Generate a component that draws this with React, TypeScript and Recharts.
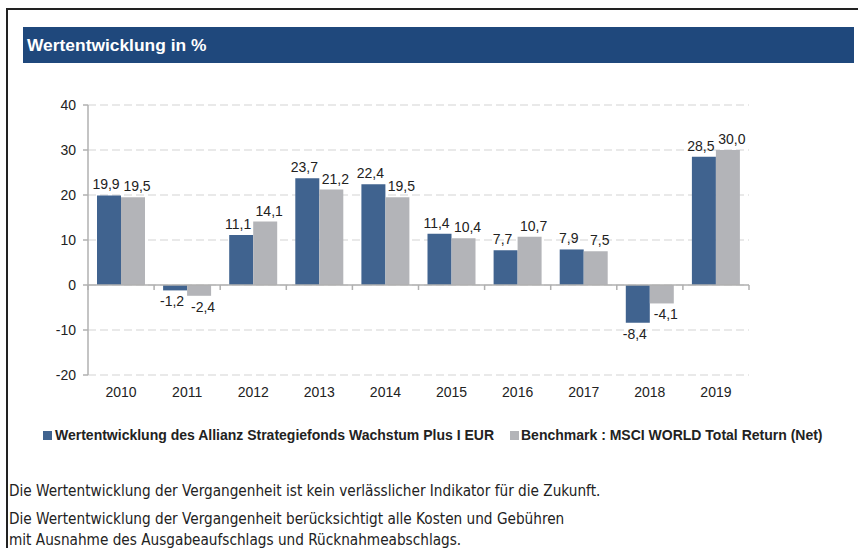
import { Bar, BarChart, CartesianGrid, LabelList, ReferenceLine, XAxis, YAxis } from "recharts";

const years = ["2010", "2011", "2012", "2013", "2014", "2015", "2016", "2017", "2018", "2019"];
const fundValues = [19.9, -1.2, 11.1, 23.7, 22.4, 11.4, 7.7, 7.9, -8.4, 28.5];
const benchmarkValues = [19.5, -2.4, 14.1, 21.2, 19.5, 10.4, 10.7, 7.5, -4.1, 30.0];
const yTicks = [-20, -10, 0, 10, 20, 30, 40];

const fundName = "Wertentwicklung des Allianz Strategiefonds Wachstum Plus I EUR";
const benchmarkName = "Benchmark : MSCI WORLD Total Return (Net)";

const BLUE = "#40638f";
const GRAY = "#b3b4b8";
const AXIS = "#b0b0b0";
const FONT = "'Liberation Sans', Arial, sans-serif";

const data = years.map((year, i) => ({
  year,
  fund: fundValues[i],
  benchmark: benchmarkValues[i],
}));

function formatValue(value: number) {
  return value.toFixed(1).replace(".", ",");
}

function makeLabel(dx: number) {
  return (props: any) => {
    const { x, y, width, height, value } = props;
    const v = Number(value);
    const top = Math.min(y, y + height);
    const bottom = Math.max(y, y + height);
    const cx = x + width / 2 + dx;
    const ty = v >= 0 ? top - 6 : bottom + 16;
    return (
      <text x={cx} y={ty} textAnchor="middle" fontSize={14} fontFamily={FONT} fill="#222">
        {formatValue(v)}
      </text>
    );
  };
}

function ZeroLine(props: any) {
  const { x1, x2, y1 } = props;
  const n = years.length;
  const marks = Array.from({ length: n + 1 }, (_, i) => x1 + ((x2 - x1) * i) / n);
  return (
    <g>
      <line x1={x1} y1={y1} x2={x2} y2={y1} stroke={AXIS} strokeWidth={1.5} />
      {marks.map((mx, i) => (
        <line key={i} x1={mx} y1={y1} x2={mx} y2={y1 + 5} stroke={AXIS} strokeWidth={1.5} />
      ))}
    </g>
  );
}

export default function App() {
  return (
    <div style={{ position: "absolute", left: 0, top: 0, width: 858, height: 548, background: "#fff", overflow: "hidden" }}>
      <div style={{ position: "absolute", left: 6, top: 8, width: 852, height: 2, background: "#222" }} />
      <div style={{ position: "absolute", left: 6, top: 8, width: 2, height: 540, background: "#222" }} />
      <div
        style={{
          position: "absolute",
          left: 23,
          top: 27,
          width: 831,
          height: 36,
          background: "#1f487c",
          color: "#fff",
          fontFamily: FONT,
          fontWeight: "bold",
          fontSize: 17.4,
          lineHeight: "36px",
          paddingLeft: 4,
          boxSizing: "border-box",
        }}
      >
        Wertentwicklung in %
      </div>

      <div style={{ position: "absolute", left: 0, top: 0 }}>
        <BarChart width={858} height={420} data={data} margin={{ top: 105, right: 109, left: 48, bottom: 15 }} barGap={0}>
          <CartesianGrid vertical={false} stroke="#d3d3d3" strokeDasharray="8 4" />
          <XAxis
            dataKey="year"
            axisLine={false}
            tickLine={false}
            height={30}
            tickMargin={6}
            tick={{ fontSize: 14, fontFamily: FONT, fill: "#222" }}
          />
          <YAxis
            domain={[-20, 40]}
            ticks={yTicks}
            width={40}
            axisLine={{ stroke: AXIS, strokeWidth: 1.5 }}
            tickLine={{ stroke: AXIS, strokeWidth: 1.5 }}
            tickSize={5}
            tickMargin={7}
            tick={{ fontSize: 14, fontFamily: FONT, fill: "#222" }}
          />
          <Bar dataKey="fund" name={fundName} fill={BLUE} barSize={24} isAnimationActive={false}>
            <LabelList dataKey="fund" content={makeLabel(-3)} />
          </Bar>
          <Bar dataKey="benchmark" name={benchmarkName} fill={GRAY} barSize={24} isAnimationActive={false}>
            <LabelList dataKey="benchmark" content={makeLabel(4)} />
          </Bar>
          <ReferenceLine y={0} shape={ZeroLine} />
        </BarChart>
      </div>

      <div
        style={{
          position: "absolute",
          left: 43,
          top: 427,
          display: "flex",
          alignItems: "center",
          fontFamily: FONT,
          fontWeight: "bold",
          fontSize: 14,
          color: "#222",
          whiteSpace: "nowrap",
        }}
      >
        <span style={{ display: "inline-block", width: 9, height: 9, background: BLUE, marginRight: 3 }} />
        <span>{fundName}</span>
        <span style={{ display: "inline-block", width: 9, height: 9, background: GRAY, marginLeft: 16, marginRight: 2 }} />
        <span>{benchmarkName}</span>
      </div>

      <div
        style={{
          position: "absolute",
          left: 9,
          top: 481,
          fontFamily: "'Liberation Sans Narrow', 'DejaVu Sans Condensed', sans-serif",
          fontSize: 15.2,
          color: "#222",
          whiteSpace: "nowrap",
        }}
      >
        <div style={{ lineHeight: "21px", marginBottom: 7 }}>
          Die Wertentwicklung der Vergangenheit ist kein verlässlicher Indikator für die Zukunft.
        </div>
        <div style={{ lineHeight: "21px" }}>Die Wertentwicklung der Vergangenheit berücksichtigt alle Kosten und Gebühren</div>
        <div style={{ lineHeight: "21px" }}>mit Ausnahme des Ausgabeaufschlags und Rücknahmeabschlags.</div>
      </div>
    </div>
  );
}
